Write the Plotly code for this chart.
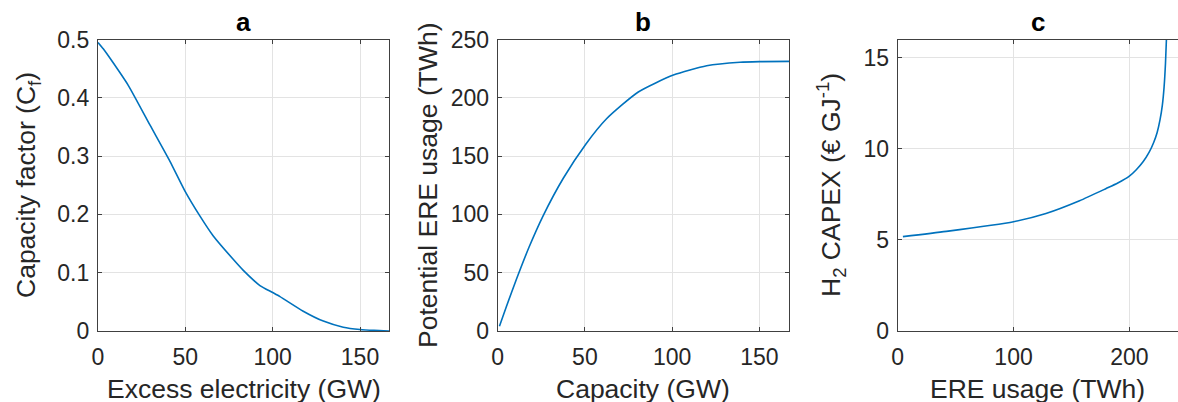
import plotly.graph_objects as go

# Panel a: capacity factor vs excess electricity
a_x = [0, 3, 8, 17.4, 29.8, 41.2, 49.8, 58.4, 66, 77.4, 83.2, 92.7, 100, 104.2, 117.5, 129, 140.4, 150, 158, 166.6]
a_y = [0.495, 0.484, 0.463, 0.421, 0.353, 0.291, 0.240, 0.197, 0.163, 0.123, 0.104, 0.078, 0.066, 0.059, 0.034, 0.017, 0.0065, 0.0025, 0.001, 0.0]

# Panel b: potential ERE usage vs capacity
b_x = [1, 5, 10.9, 18, 26.1, 37.6, 50.4, 62.4, 80.6, 100.7, 119.8, 138.9, 150, 167]
b_y = [4, 21, 45, 72, 99, 131, 160, 182, 205, 219.5, 227.5, 230.5, 231, 231.2]

# Panel c: H2 CAPEX vs ERE usage
c_x = [4.5, 42, 100, 128, 157, 180, 190, 200, 206, 212, 217, 221, 224, 226.5, 228.5, 230, 231.2, 232]
c_y = [5.18, 5.47, 6.0, 6.45, 7.15, 7.82, 8.12, 8.5, 8.85, 9.3, 9.8, 10.35, 10.9, 11.6, 12.4, 13.4, 14.7, 16.0]

titles = ["a", "b", "c"]
x_titles = ["Excess electricity (GW)", "Capacity (GW)", "ERE usage (TWh)"]
y_titles = ["Capacity factor (C<sub>f</sub>)", "Potential ERE usage (TWh)", "H<sub>2</sub> CAPEX (€ GJ<sup>-1</sup>)"]

W, H = 1178, 402
line_color = "#0072BD"
axis_color = "#404040"
grid_color = "#e3e3e3"
text_color = "#262626"
font_family = "Liberation Sans, Arial, sans-serif"

x_dom = [(98 / W, 389 / W), (497.7 / W, 789 / W), (897.7 / W, 1.0)]
y_dom = ((H - 331) / H, (H - 39.5) / H)

fig = go.Figure()
for i, (xs, ys) in enumerate([(a_x, a_y), (b_x, b_y), (c_x, c_y)]):
    sfx = "" if i == 0 else str(i + 1)
    fig.add_trace(go.Scatter(x=xs, y=ys, mode="lines",
                             line=dict(color=line_color, width=1.6, shape="spline", smoothing=0.6),
                             xaxis="x" + sfx, yaxis="y" + sfx, showlegend=False, hoverinfo="skip"))

ax_common = dict(showline=True, linecolor=axis_color, linewidth=1.2, showgrid=True, gridcolor=grid_color,
                 gridwidth=1, ticks="inside", ticklen=4, tickcolor=axis_color, zeroline=False,
                 automargin=False,
                 tickfont=dict(family=font_family, size=23, color=text_color))

x_ranges = [[0, 166.6], [0, 167], [0, 242]]
x_ticks = [[0, 50, 100, 150], [0, 50, 100, 150], [0, 100, 200]]
y_ranges = [[0, 0.5], [0, 250], [0, 16]]
y_ticks = [[0, 0.1, 0.2, 0.3, 0.4, 0.5], [0, 50, 100, 150, 200, 250], [0, 5, 10, 15]]
y_ticktext = [["0", "0.1", "0.2", "0.3", "0.4", "0.5"], None, None]

layout = dict(width=W, height=H, margin=dict(l=0, r=0, t=0, b=0, autoexpand=False),
              paper_bgcolor="white", plot_bgcolor="white",
              font=dict(family=font_family, color=text_color))
for i in range(3):
    sfx = "" if i == 0 else str(i + 1)
    xa = dict(ax_common, domain=list(x_dom[i]), range=x_ranges[i], tickvals=x_ticks[i],
              anchor="y" + sfx, mirror="ticks", ticklabelstandoff=5)
    ya = dict(ax_common, domain=list(y_dom), range=y_ranges[i], tickvals=y_ticks[i],
              anchor="x" + sfx, mirror=("ticks" if i < 2 else False), ticklabelstandoff=3)
    if y_ticktext[i]:
        ya["ticktext"] = y_ticktext[i]
    layout["xaxis" + sfx] = xa
    layout["yaxis" + sfx] = ya
fig.update_layout(**layout)

y_title_x = [28, 428, 831]
ann = []
for i in range(3):
    xc = (x_dom[i][0] + x_dom[i][1]) / 2
    ann.append(dict(text="<b>" + titles[i] + "</b>", x=xc, y=(H - 22) / H, xref="paper", yref="paper",
                    showarrow=False, xanchor="center", yanchor="middle",
                    font=dict(size=26, color="black", family=font_family)))
    ann.append(dict(text=x_titles[i], x=xc, y=(H - 372) / H, xref="paper", yref="paper",
                    showarrow=False, xanchor="center", yanchor="top",
                    font=dict(size=26.5, color=text_color, family=font_family)))
    ann.append(dict(text=y_titles[i], x=y_title_x[i] / W, y=(H - 185) / H, xref="paper", yref="paper",
                    showarrow=False, xanchor="center", yanchor="middle", textangle=-90,
                    font=dict(size=26.5, color=text_color, family=font_family)))
fig.update_layout(annotations=ann)

fig.write_html("out.html", config={"displayModeBar": False},
               post_script="document.body.style.margin='0';document.body.style.overflow='hidden';")
